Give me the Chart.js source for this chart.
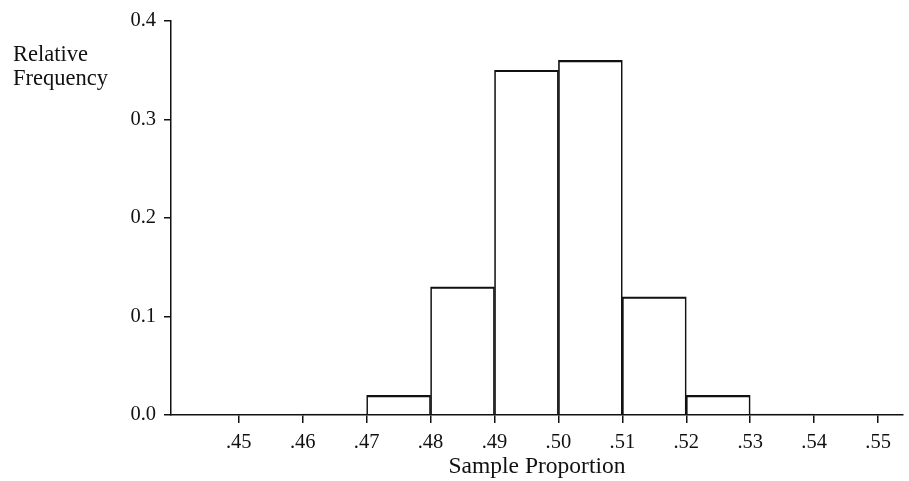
<!DOCTYPE html>
<html>
<head>
<meta charset="utf-8">
<script src="https://cdn.jsdelivr.net/npm/chart.js@4/dist/chart.umd.min.js"></script>
<style>
  html, body { margin: 0; padding: 0; background: #fff; }
  #wrap { width: 909px; height: 481px; }
</style>
</head>
<body>
<div id="wrap"><canvas id="histChart" width="909" height="481"></canvas></div>
<script>
// Histogram data: lower edge of each bin and its relative frequency
const binLower = [0.46, 0.47, 0.48, 0.49, 0.50, 0.51, 0.52, 0.53];
const binWidth = 0.01;
const relFreq = [0.001, 0.02, 0.13, 0.35, 0.36, 0.12, 0.02, 0.001];
const xTicks = [0.45, 0.46, 0.47, 0.48, 0.49, 0.50, 0.51, 0.52, 0.53, 0.54, 0.55];
const yTicks = [0.0, 0.1, 0.2, 0.3, 0.4];
const xLabel = 'Sample Proportion';
const yLabel = ['Relative', 'Frequency'];

const serif = '"Liberation Serif", "Times New Roman", serif';
Chart.defaults.font.family = serif;
Chart.defaults.color = '#111';

// y axis title sits horizontally in the top left corner
const cornerLabel = {
    id: 'cornerLabel',
    afterDraw(chart) {
        const ctx = chart.ctx;
        ctx.save();
        ctx.font = '22.5px ' + serif;
        ctx.fillStyle = '#111';
        ctx.textAlign = 'left';
        ctx.textBaseline = 'alphabetic';
        yLabel.forEach((line, i) => ctx.fillText(line, 13, 61 + i * 24));
        ctx.restore();
    }
};

const ctx = document.getElementById('histChart').getContext('2d');
new Chart(ctx, {
    type: 'bar',
    data: {
        datasets: [{
            data: binLower.map((lo, i) => ({ x: lo + binWidth / 2, y: relFreq[i] })),
            backgroundColor: 'rgba(0,0,0,0)',
            borderColor: '#111',
            borderWidth: { top: 1.5, left: 1, right: 1, bottom: 0 },
            borderSkipped: 'bottom',
            barPercentage: 1,
            categoryPercentage: 1
        }]
    },
    options: {
        responsive: false,
        animation: false,
        devicePixelRatio: 1,
        layout: { padding: { top: 21, right: 6, left: 0, bottom: 0 } },
        plugins: { legend: { display: false }, tooltip: { enabled: false } },
        scales: {
            x: {
                type: 'linear',
                offset: false,
                min: 0.4394,
                max: 0.5539,
                afterBuildTicks: s => { s.ticks = xTicks.map(v => ({ value: v })); },
                afterFit: s => { s.height = 66; },
                grid: { offset: false, drawOnChartArea: false, drawTicks: true, tickLength: 8, color: '#111', lineWidth: 1.5 },
                border: { display: true, color: '#111', width: 1.5 },
                ticks: {
                    padding: 7,
                    maxRotation: 0,
                    autoSkip: false,
                    font: { size: 20.5 },
                    callback: v => v.toFixed(2).replace(/^0/, '')
                },
                title: { display: true, text: xLabel, font: { size: 23.5 }, padding: { top: 5, bottom: 0 } }
            },
            y: {
                min: 0,
                max: 0.4,
                afterBuildTicks: s => { s.ticks = yTicks.map(v => ({ value: v })); },
                afterFit: s => { s.width = 171; },
                grid: { drawOnChartArea: false, drawTicks: true, tickLength: 7, color: '#111', lineWidth: 1.5 },
                border: { display: true, color: '#111', width: 1.5 },
                ticks: {
                    padding: 8,
                    font: { size: 20.5 },
                    callback: v => v.toFixed(1)
                }
            }
        }
    },
    plugins: [cornerLabel]
});
</script>
</body>
</html>
